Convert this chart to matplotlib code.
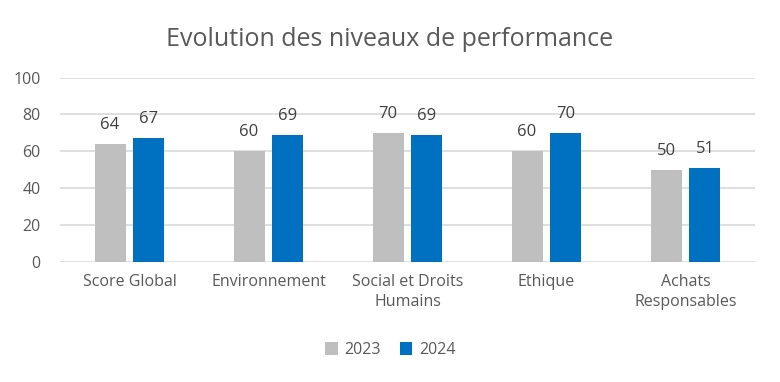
import matplotlib
matplotlib.use("Agg")
import matplotlib.pyplot as plt
import numpy as np

categories = ["Score Global", "Environnement", "Social et Droits\nHumains", "Ethique", "Achats\nResponsables"]
series_names = ["2023", "2024"]
values_2023 = [64, 60, 70, 60, 50]
values_2024 = [67, 69, 69, 70, 51]
yticks = [0, 20, 40, 60, 80, 100]

plt.rcParams['font.family'] = ['Open Sans', 'DejaVu Sans']
txt = '#595959'

fig = plt.figure(figsize=(7.8, 3.82), dpi=100)
ax = fig.add_axes([60/780, 1-261.7/382, 695/780, (261.7-77.5)/382])

x = np.arange(len(categories))
w = 0.223
off = 0.14
b1 = ax.bar(x - off, values_2023, w, color='#BFBFBF', label=series_names[0], zorder=3)
b2 = ax.bar(x + off, values_2024, w, color='#0070C0', label=series_names[1], zorder=3)
for bars, vals in ((b1, values_2023), (b2, values_2024)):
    for r, v in zip(bars, vals):
        ax.text(r.get_x() + r.get_width()/2, v + 6, str(v), ha='center', va='bottom',
                fontsize=12, color='#404040')

ax.set_xlim(-0.5, len(categories) - 0.5)
ax.set_ylim(0, 100)
ax.set_yticks(yticks)
ax.set_yticklabels([str(t) for t in yticks], fontsize=11.5, color=txt)
ax.set_xticks(x)
ax.set_xticklabels(categories, fontsize=11.5, color=txt, linespacing=1.3)
ax.tick_params(axis='both', length=0)
ax.tick_params(axis='x', pad=9)
ax.tick_params(axis='y', pad=14)
ax.grid(axis='y', color='#D9D9D9', linewidth=1.2, zorder=0)
for s in ax.spines.values():
    s.set_visible(False)

fig.suptitle("Evolution des niveaux de performance", x=0.5, y=1-40/382, va='center',
             fontsize=18, color=txt)
leg = fig.legend(loc='center', bbox_to_anchor=(0.5, 1-350/382), ncol=2, frameon=False,
                 fontsize=11.5, handlelength=0.8, handleheight=0.8, handletextpad=0.4,
                 columnspacing=1.2)
for t in leg.get_texts():
    t.set_color(txt)

fig.savefig("out.png", dpi=100)
